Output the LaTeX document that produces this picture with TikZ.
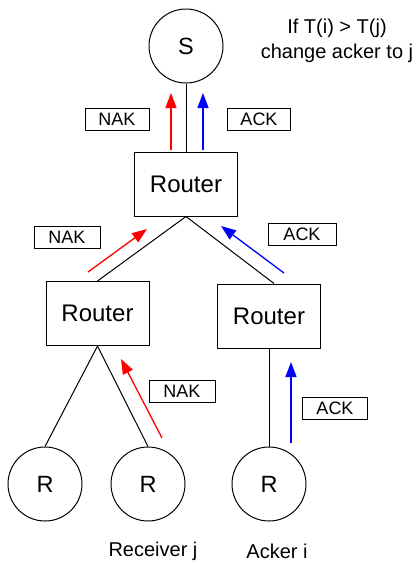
\documentclass[tikz,border=0pt]{standalone}
\usepackage{fontspec}
\setmainfont{Liberation Sans}
\usepackage{xcolor}
\usetikzlibrary{arrows.meta,positioning}

\begin{document}
\begin{tikzpicture}[x=1pt,y=-1pt,
    node circ/.style={draw, line width=1pt, circle, minimum size=74pt, inner sep=0pt,
      font=\fontsize{23.5}{25}\selectfont},
    router/.style={draw, line width=1pt, minimum width=103pt, minimum height=64pt, inner sep=0pt,
      font=\fontsize{24}{26}\selectfont},
    msg/.style={draw, line width=1pt, minimum width=65pt, minimum height=22pt, inner sep=0pt,
      font=\fontsize{18}{20}\selectfont},
    link/.style={line width=1pt},
    nak/.style={red, line width=1.3pt, -{Triangle[length=15pt,width=11pt]}},
    ack/.style={blue, line width=1.3pt, -{Triangle[length=15pt,width=11pt]}}]
  \useasboundingbox (0,0) rectangle (417,563);

  % nodes
  \node[node circ] (s) at (186,46) {S};
  \node[router] (top) at (186,184) {Router};
  \node[router] (left) at (97.5,313.5) {Router};
  \node[router] (right) at (269,316) {Router};
  \foreach \name/\x in {r1/45,r2/148,r3/269}
    \node[node circ] (\name) at (\x,484) {R};

  \node[font=\fontsize{20}{25}\selectfont, align=center] (rule) at (337,41)
    {If T(i) {>} T(j)\\change acker to j};
  \node[font=\fontsize{20}{22}\selectfont] (recv) at (153,551) {Receiver j};
  \node[font=\fontsize{20}{22}\selectfont] (acker) at (277,551) {Acker i};

  % tree links
  \draw[link] (s) -- (top);
  \draw[link] (top.south) -- (left.north);
  \draw[link] (top.south) -- ([xshift=5pt]right.north);
  \draw[link] (left.south) -- (r1.north);
  \draw[link] (left.south) -- (r2.north);
  \draw[link] (right) -- (r3);

  % feedback messages
  \node[msg, minimum width=64pt] (nak1) at (117,119) {NAK};
  \node[msg, minimum width=63pt] (ack1) at (259,119) {ACK};
  \node[msg, minimum width=66pt] (nak2) at (67,237) {NAK};
  \node[msg, minimum width=68pt] (ack2) at (302,234) {ACK};
  \node[msg, minimum width=66pt] (nak3) at (182,391) {NAK};
  \node[msg, minimum width=65pt] (ack3) at (335,408) {ACK};

  \coordinate (n1a) at (171,150); \coordinate (n1b) at (171,93);
  \coordinate (a1a) at (203,150); \coordinate (a1b) at (203,93);
  \coordinate (n2a) at (88,272);  \coordinate (n2b) at (147,229);
  \coordinate (a2a) at (284,273); \coordinate (a2b) at (221,226);
  \coordinate (n3a) at (162,438); \coordinate (n3b) at (121,359);
  \coordinate (a3a) at (291,443); \coordinate (a3b) at (291,362);

  \draw[nak] (n1a) -- (n1b);
  \draw[ack] (a1a) -- (a1b);
  \draw[nak] (n2a) -- (n2b);
  \draw[ack] (a2a) -- (a2b);
  \draw[nak] (n3a) -- (n3b);
  \draw[ack] (a3a) -- (a3b);
\end{tikzpicture}
\end{document}
